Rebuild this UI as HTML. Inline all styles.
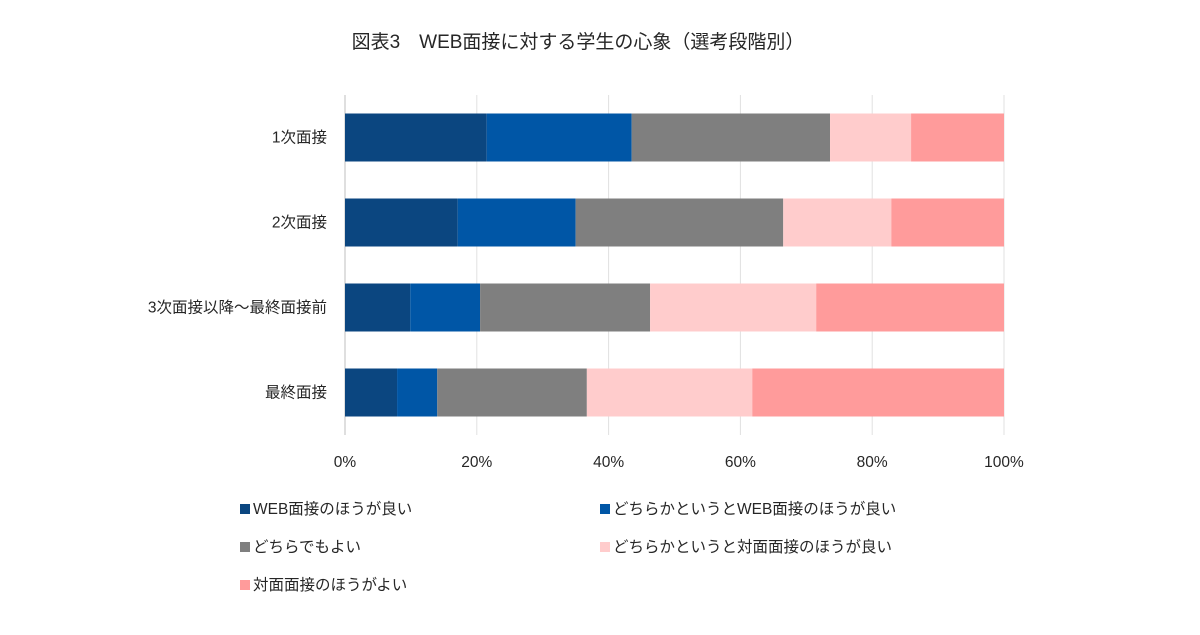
<!DOCTYPE html>
<html><head><meta charset="utf-8"><style>
body{margin:0;background:#fff;font-family:"Liberation Sans","Noto Sans CJK JP",sans-serif;}
svg text{font-family:"Liberation Sans","Noto Sans CJK JP",sans-serif;fill:#262626;}
</style></head><body>
<svg id="chart" width="1200" height="630" xmlns="http://www.w3.org/2000/svg">
<text x="578" y="48" font-size="19" text-anchor="middle">図表3　WEB面接に対する学生の心象（選考段階別）</text>
<g id="grid"></g><g id="bars"></g><g id="labels"></g><g id="legend"></g>
</svg>
<script>
const categories=["1次面接","2次面接","3次面接以降～最終面接前","最終面接"];
const seriesNames=["WEB面接のほうが良い","どちらかというとWEB面接のほうが良い","どちらでもよい","どちらかというと対面面接のほうが良い","対面面接のほうがよい"];
const s1=[21.5,17.1,9.9,7.9];
const s2=[22.0,17.9,10.6,6.1];
const s3=[30.1,31.5,25.8,22.7];
const s4=[12.3,16.4,25.2,25.1];
const s5=[14.1,17.1,28.5,38.2];
const ticks=[0,20,40,60,80,100];
const colors=["#0b4680","#0056a6","#7f7f7f","#ffcccc","#ff9b9b"];
const NS="http://www.w3.org/2000/svg";
const x0=345,x1=1004,yTop=95,yBot=435,bandH=(yBot-yTop)/categories.length,barH=48;
const xs=v=>x0+(x1-x0)*v/100;
function mk(t,a,p){const e=document.createElementNS(NS,t);for(const k in a)e.setAttribute(k,a[k]);p.appendChild(e);return e;}
const grid=document.getElementById('grid'),bars=document.getElementById('bars'),labels=document.getElementById('labels'),legend=document.getElementById('legend');
ticks.forEach(t=>{
 const l=mk('line',{x1:xs(t),x2:xs(t),y1:yTop,y2:yBot,stroke:t===0?'#bfbfbf':'#e0e0e0','stroke-width':1},grid);
 
 
 const tx=mk('text',{x:xs(t),y:467,'font-size':15.5,'text-anchor':'middle'},labels);
 tx.textContent=t+'%';
 
 
});
const series=[s1,s2,s3,s4,s5];
categories.forEach((c,i)=>{
 const cy=yTop+bandH*(i+0.5);
 let acc=0;
 series.forEach((s,j)=>{
  const r=mk('rect',{x:xs(acc),y:cy-barH/2,width:xs(acc+s[i])-xs(acc),height:barH,fill:colors[j]},bars);
  
  
  acc+=s[i];
 });
 const t=mk('text',{x:327,y:cy+5,'font-size':15.5,'text-anchor':'end'},labels);
 t.textContent=c;
 
 
});
const lx=[240,600],ly=[509,547,585];
seriesNames.forEach((n,j)=>{
 const x=lx[j%2],y=ly[Math.floor(j/2)];
 const g=mk('g',{},legend);
 
 
 mk('rect',{x:x,y:y-5,width:10,height:10,fill:colors[j]},g);
 const t=mk('text',{x:x+13,y:y+5,'font-size':15.5},g);
 t.textContent=n;
});
</script>
</body></html>
